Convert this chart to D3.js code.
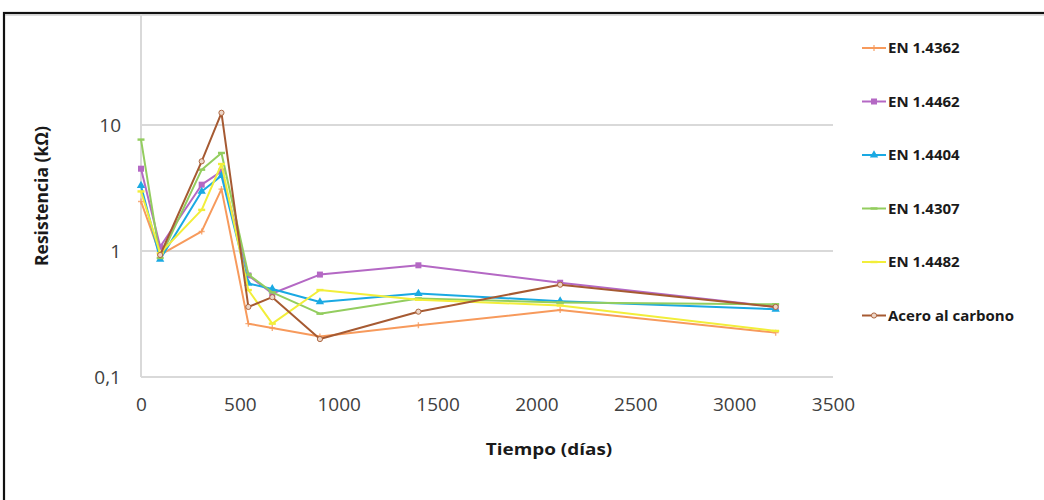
<!DOCTYPE html>
<html>
<head>
<meta charset="utf-8">
<script src="https://cdn.jsdelivr.net/npm/d3@7"></script>
<style>
  html, body { margin: 0; padding: 0; background: #fff; }
  svg { display: block; }
  text { font-family: "Open Sans", "DejaVu Sans", sans-serif; }
</style>
</head>
<body>
<svg id="chart" width="1044" height="500"></svg>
<script>
// Measurement days
const days = [0, 97, 307, 407, 543, 664, 905, 1403, 2120, 3210];

// Resistance (kΩ) per material
const en14362 = [2.47, 0.93, 1.43, 3.1, 0.265, 0.245, 0.21, 0.257, 0.34, 0.225];
const en14462 = [4.5, 1.08, 3.36, 4.28, 0.64, 0.46, 0.65, 0.77, 0.56, 0.36];
const en14404 = [3.3, 0.86, 2.97, 3.96, 0.553, 0.50, 0.394, 0.46, 0.40, 0.345];
const en14307 = [7.66, 0.88, 4.42, 6.0, 0.65, 0.47, 0.318, 0.42, 0.39, 0.378];
const en14482 = [2.97, 0.96, 2.12, 4.9, 0.49, 0.265, 0.49, 0.41, 0.37, 0.232];
const aceroCarbono = [null, 0.93, 5.15, 12.5, 0.36, 0.43, 0.20, 0.33, 0.54, 0.36];

const seriesNames = ["EN 1.4362", "EN 1.4462", "EN 1.4404", "EN 1.4307", "EN 1.4482", "Acero al carbono"];
const seriesValues = [en14362, en14462, en14404, en14307, en14482, aceroCarbono];
const seriesColors = ["#f79a5c", "#b468c4", "#1aa9e3", "#93cd5f", "#f2ee3a", "#a65a32"];
const seriesMarkers = ["cross", "square", "triangle", "dash", "dash", "circle"];

const xTicks = [0, 500, 1000, 1500, 2000, 2500, 3000, 3500];
const yTicks = [0.1, 1, 10];
const yTickLabels = ["0,1", "1", "10"];

const svg = d3.select("#chart");

// Outer frame
svg.append("rect")
  .attr("x", 4).attr("y", 13).attr("width", 1100).attr("height", 600)
  .attr("fill", "none").attr("stroke", "#111").attr("stroke-width", 2.2);
svg.append("line")
  .attr("x1", 5).attr("x2", 1044).attr("y1", 15).attr("y2", 15)
  .attr("stroke", "#bbb").attr("stroke-width", 1);

const x = d3.scaleLinear().domain([0, 3500]).range([141, 833]);
const y = d3.scaleLog().domain([0.1, 100]).range([377, -1]);

const plot = svg.append("g");

// Horizontal gridlines at each decade
plot.selectAll("line.grid")
  .data(yTicks)
  .join("line")
  .attr("class", "grid")
  .attr("x1", x(0)).attr("x2", x(3500))
  .attr("y1", d => y(d)).attr("y2", d => y(d))
  .attr("stroke", "#d9d9d9").attr("stroke-width", 2);

// Vertical axis line
plot.append("line")
  .attr("x1", x(0)).attr("x2", x(0))
  .attr("y1", 14).attr("y2", y(0.1))
  .attr("stroke", "#d9d9d9").attr("stroke-width", 2);

// Axes (labels only)
const xAxis = d3.axisBottom(x).tickValues(xTicks).tickSize(0).tickPadding(0).tickFormat(d3.format("d"));
const gx = svg.append("g").attr("transform", `translate(0, ${y(0.1) + 20})`).call(xAxis);
gx.select(".domain").remove();
gx.selectAll("text")
  .attr("font-size", 19).attr("fill", "#404040")
  .attr("font-family", "'Open Sans', sans-serif")
  .attr("dy", "0.71em");

const yAxis = d3.axisLeft(y).tickValues(yTicks).tickSize(0).tickPadding(20)
  .tickFormat((d, i) => yTickLabels[i]);
const gy = svg.append("g").attr("transform", `translate(${x(0)}, 0)`).call(yAxis);
gy.select(".domain").remove();
gy.selectAll("text")
  .attr("font-size", 19).attr("fill", "#404040")
  .attr("font-family", "'Open Sans', sans-serif");

// Widen bold labels slightly (narrow bold face look)
function widen(sel, factor) {
  sel.each(function () {
    const len = this.getComputedTextLength();
    d3.select(this).attr("textLength", len * factor).attr("lengthAdjust", "spacingAndGlyphs");
  });
}

// Axis titles
const xTitle = svg.append("text")
  .attr("x", 549).attr("y", 455)
  .attr("text-anchor", "middle")
  .attr("font-size", 15.5).attr("font-weight", "bold").attr("fill", "#1a1a1a")
  .text("Tiempo (días)");
widen(xTitle, 1.22);

svg.append("text")
  .attr("transform", "translate(48, 196) rotate(-90)")
  .attr("text-anchor", "middle")
  .attr("font-size", 17.5).attr("font-weight", "bold").attr("fill", "#1a1a1a")
  .text("Resistencia (kΩ)");

// Marker drawing
function drawMarker(g, type, color, cx, cy) {
  if (type === "square") {
    g.append("rect").attr("x", cx - 3).attr("y", cy - 3).attr("width", 6).attr("height", 6).attr("fill", color);
  } else if (type === "triangle") {
    g.append("path").attr("d", d3.symbol(d3.symbolTriangle, 30)()).attr("transform", `translate(${cx},${cy})`).attr("fill", color);
  } else if (type === "dash") {
    g.append("rect").attr("x", cx - 3.5).attr("y", cy - 1.2).attr("width", 7).attr("height", 2.4).attr("fill", color);
  } else if (type === "cross") {
    g.append("path").attr("d", `M${cx - 3},${cy}H${cx + 3}M${cx},${cy - 3}V${cy + 3}`)
      .attr("stroke", color).attr("stroke-width", 1.4).attr("opacity", 0.8);
  } else if (type === "circle") {
    g.append("circle").attr("cx", cx).attr("cy", cy).attr("r", 2.6)
      .attr("fill", "#ecd6c8").attr("stroke", color).attr("stroke-width", 0.9);
  }
}

const line = d3.line()
  .defined(d => d.v != null)
  .x(d => x(d.t))
  .y(d => y(d.v));

seriesValues.forEach((vals, i) => {
  const pts = days.map((t, j) => ({ t, v: vals[j] }));
  const g = plot.append("g");
  g.append("path")
    .datum(pts)
    .attr("fill", "none")
    .attr("stroke", seriesColors[i])
    .attr("stroke-width", 2)
    .attr("stroke-linejoin", "round")
    .attr("d", line);
  pts.filter(d => d.v != null).forEach(d => drawMarker(g, seriesMarkers[i], seriesColors[i], x(d.t), y(d.v)));
});

// Legend
const legend = svg.append("g");
seriesNames.forEach((name, i) => {
  const cy = 48 + i * 53.5;
  const g = legend.append("g");
  g.append("line").attr("x1", 862).attr("x2", 886).attr("y1", cy).attr("y2", cy)
    .attr("stroke", seriesColors[i]).attr("stroke-width", 2);
  drawMarker(g, seriesMarkers[i], seriesColors[i], 874, cy);
  g.append("text").attr("x", 888).attr("y", cy).attr("dy", "0.35em")
    .attr("font-size", 15).attr("font-weight", "bold").attr("fill", "#1a1a1a")
    .text(name);
});
</script>
</body>
</html>
